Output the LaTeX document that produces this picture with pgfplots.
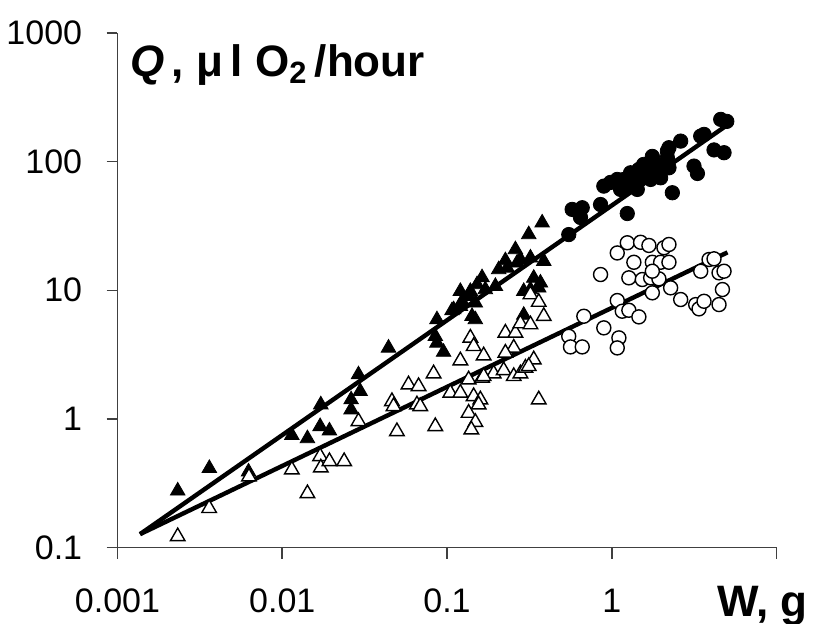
\documentclass[border=0pt]{standalone}
\usepackage{fontspec}
\setmainfont{Liberation Sans}
\usepackage{pgfplots}
\pgfplotsset{compat=1.18}
\begin{document}
\begin{tikzpicture}
\useasboundingbox (-58.75pt,-37.75pt) rectangle (347.75pt,273.75pt);
\begin{axis}[
  at={(0,0)}, anchor=south west,
  scale only axis, width=329.5pt, height=257.25pt,
  xmode=log, ymode=log,
  xmin=0.001, xmax=10, ymin=0.1, ymax=1000,
  axis x line=bottom, axis y line=left,
  axis line style={-, draw=black!75, line width=0.75pt},
  every outer x axis line/.append style={-},
  every outer y axis line/.append style={-},
  xtick={0.001,0.01,0.1,1,10}, xticklabels={0.001,0.01,0.1,1,{}},
  ytick={0.1,1,10,100,1000}, yticklabels={0.1,1,10,100,1000},
  xminorticks=false, yminorticks=false,
  tick align=outside, major tick length=5.5pt,
  tick style={draw=black!75, line width=0.75pt},
  tick label style={font=\fontsize{17}{20}\selectfont, inner sep=0pt},
  xticklabel style={anchor=base, yshift=-27pt},
  yticklabel style={anchor=east, xshift=-12pt},
  clip=false,
]
% filled triangles
\addplot[only marks, mark=triangle*, mark size=4.2pt, mark options={fill=black, draw=black}] coordinates {
(0.00232,0.276) (0.00361,0.413) (0.00624,0.388) (0.01143,0.746) (0.01422,0.704)
(0.01714,1.29) (0.01698,0.874) (0.01934,0.809) (0.02618,1.411) (0.02902,2.208)
(0.02972,1.637) (0.02618,1.179) (0.04416,3.563) (0.0869,5.916) (0.0849,4.385)
(0.0869,3.896) (0.0953,3.304) (0.1205,9.82) (0.1353,8.98) (0.1205,7.51)
(0.1072,6.95) (0.1419,6.28) (0.1486,7.98) (0.1632,12.55) (0.1709,10.13)
(0.1966,10.75) (0.2261,17.03) (0.2601,20.74) (0.2664,16.34) (0.3209,17.87)
(0.3134,27.13) (0.378,33.46) (0.3361,12.44) (0.3605,10.44) (0.3867,16.82)
(0.2922,9.82) (0.2922,6.41) (0.1234,8.21) (0.1097,7.08) (0.1522,11.08)
(0.1386,9.82) (0.1486,5.92) (0.369,11.42) (0.3209,10.13) (0.232,14.9)
(0.279,17.4) (0.206,14.5)
};
% open triangles
\addplot[only marks, mark=triangle*, mark size=4.2pt, mark options={fill=white, draw=black, line width=0.7pt}] coordinates {
(0.00232,0.1218) (0.0036,0.2018) (0.00628,0.355) (0.01143,0.4025) (0.01422,0.263)
(0.01698,0.511) (0.01714,0.417) (0.01934,0.467) (0.02375,0.467) (0.02902,0.956)
(0.04966,0.799) (0.04632,1.368) (0.04737,1.251) (0.0584,1.846) (0.0672,1.79)
(0.0657,1.29) (0.0829,2.248) (0.0849,0.874) (0.1047,1.591) (0.1205,1.591)
(0.1205,2.838) (0.1353,2.018) (0.1386,4.263) (0.1451,3.665) (0.1669,3.103)
(0.1451,1.496) (0.1594,1.411) (0.1556,1.29) (0.1353,1.111) (0.1486,0.943)
(0.1405,0.824) (0.1632,2.081) (0.192,2.248) (0.2208,2.381) (0.2541,2.142)
(0.279,2.248) (0.2992,2.489) (0.3361,2.889) (0.3134,2.562) (0.2261,4.661)
(0.2601,4.661) (0.2541,3.563) (0.2261,3.257) (0.279,5.508) (0.3209,5.41)
(0.3605,1.411) (0.3209,9.26) (0.3605,8.09) (0.3867,6.28) (0.1669,2.142)
(0.0688,1.251)
};
% filled circles
\addplot[only marks, mark=*, mark size=3.6pt, mark options={fill=black, draw=black}] coordinates {
(4.585,213) (4.99,205.5) (3.467,157.9) (3.631,162.8) (2.62,144.4)
(2.224,128.3) (2.175,120.7) (1.763,109.8) (1.891,95.1) (2.175,107.2)
(2.224,89.6) (4.176,123.3) (4.803,117.3) (3.156,92.3) (3.311,80.9)
(1.461,86.9) (1.301,81.9) (1.644,81.9) (1.496,72.7) (1.185,72.7)
(1.08,72.7) (1.301,64.5) (1.429,60.8) (1.131,60.8) (1.722,72.7)
(1.933,77.1) (0.895,64.5) (2.332,57.3) (0.855,46.4) (0.662,43.8)
(0.575,42.5) (1.242,39.5) (0.5484,27.1) (0.646,36.8) (1.362,79.5)
(1.98,74.9) (1.561,95.1) (0.983,68.9)
};
% open circles
\addplot[only marks, mark=*, mark size=3.5pt, mark options={fill=white, draw=black, line width=0.7pt}] coordinates {
(1.242,23.4) (1.496,23.6) (1.681,22.3) (2.074,21.4) (2.224,22.7)
(1.08,19.5) (1.362,16.5) (1.763,16.5) (1.98,16.5) (2.224,16.5)
(0.855,13.25) (1.27,12.49) (1.532,12.12) (1.722,12.49) (1.933,12.27)
(1.763,14.06) (1.763,9.55) (2.277,10.44) (2.62,8.47) (1.08,8.32)
(1.158,6.87) (1.27,6.99) (1.461,6.21) (0.677,6.28) (0.895,5.10)
(0.548,4.385) (0.5616,3.627) (0.662,3.627) (1.105,4.263) (1.08,3.563)
(3.467,14.06) (3.894,17.34) (4.176,17.56) (4.478,13.66) (4.803,14.06)
(4.696,10.13) (4.478,7.74) (3.231,7.74) (3.385,7.17) (3.631,8.21)
};
% regression lines
\addplot[black, line width=2.2pt] coordinates {(0.00137,0.127) (4.92,189)};
\addplot[black, line width=2.2pt] coordinates {(0.00137,0.127) (5.04,19.7)};
\node[anchor=base west, inner sep=0pt, font=\bfseries\fontsize{22}{26}\selectfont] at (rel axis cs:0.019,0.915) {\textit{Q}\,, μ\,l O\textsubscript{2}\,/hour};
\node[anchor=base west, inner sep=0pt, yshift=-34.5pt, font=\bfseries\fontsize{22}{26}\selectfont] at (rel axis cs:0.9097,0) {W, g};
\end{axis}
\end{tikzpicture}
\end{document}
